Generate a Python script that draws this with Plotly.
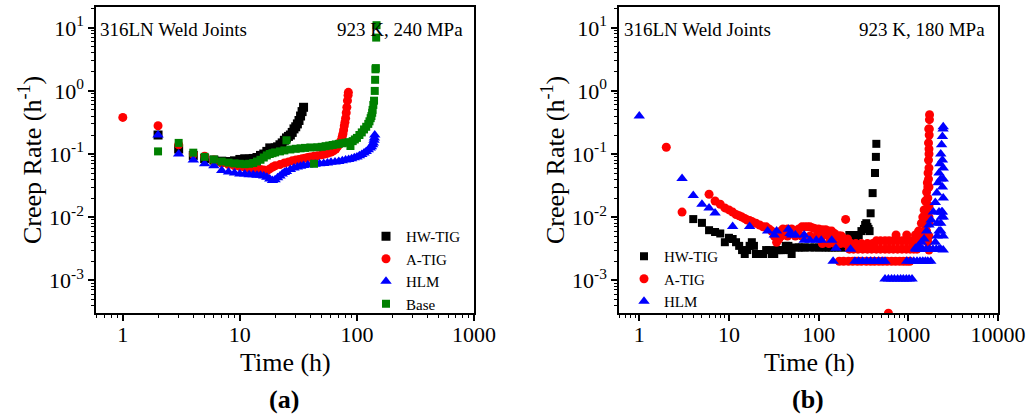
import plotly.graph_objects as go

# ---------------- Panel (a): 923 K, 240 MPa ----------------
a_hw_t = [2, 3, 4, 5, 6, 7, 8, 9, 10, 11, 12, 13, 14, 15, 16, 17, 18, 19, 20, 21, 22, 23, 24,
          25, 26, 27, 28, 29, 30, 31, 32, 33, 34, 35]
a_hw_r = [0.2, 0.12, 0.095, 0.085, 0.08, 0.077, 0.076, 0.078, 0.082, 0.084, 0.083, 0.085, 0.088,
          0.095, 0.1, 0.11, 0.125, 0.12, 0.125, 0.13, 0.14, 0.15, 0.165, 0.18, 0.19, 0.2, 0.22,
          0.25, 0.27, 0.3, 0.34, 0.4, 0.47, 0.55]

a_atig_t = [1, 2, 3, 4, 5, 6, 7, 8, 9, 10, 11, 12, 13, 14, 15, 16, 17, 18, 19, 20, 22, 24, 26,
            28, 30, 32, 34, 36, 38, 40, 43, 46, 50, 53, 56, 60, 63, 66, 68, 70, 72, 74, 75, 76,
            77, 78, 79, 80, 81, 82, 83, 84, 84.5]
a_atig_r = [0.38, 0.28, 0.14, 0.1, 0.092, 0.08, 0.072, 0.068, 0.065, 0.063, 0.062, 0.06, 0.059,
            0.058, 0.057, 0.056, 0.054, 0.058, 0.062, 0.065, 0.068, 0.072, 0.075, 0.078, 0.08,
            0.082, 0.084, 0.086, 0.088, 0.09, 0.092, 0.094, 0.097, 0.1, 0.103, 0.107, 0.112,
            0.12, 0.13, 0.14, 0.155, 0.17, 0.19, 0.21, 0.24, 0.28, 0.32, 0.37, 0.45, 0.55, 0.7,
            0.85, 0.95]

a_hlm_t = [2, 3, 4, 5, 6, 7, 8, 9, 10, 11, 12, 13, 14, 15, 16, 17, 18, 19, 20, 21, 22, 23, 24,
           25, 27, 29, 31, 33, 35, 38, 41, 44, 48, 52, 56, 60, 65, 70, 75, 80, 85, 90, 95, 100,
           105, 110, 115, 120, 125, 130, 133, 136, 138, 140, 141, 142]
a_hlm_r = [0.2, 0.1, 0.08, 0.07, 0.065, 0.055, 0.052, 0.05, 0.048, 0.048, 0.047, 0.047, 0.046,
           0.046, 0.045, 0.043, 0.04, 0.038, 0.039, 0.042, 0.045, 0.048, 0.051, 0.053, 0.057,
           0.06, 0.062, 0.064, 0.066, 0.067, 0.068, 0.069, 0.07, 0.071, 0.072, 0.074, 0.075,
           0.076, 0.078, 0.08, 0.082, 0.084, 0.087, 0.09, 0.094, 0.098, 0.104, 0.11, 0.117,
           0.125, 0.13, 0.14, 0.15, 0.165, 0.18, 0.2]

a_base_t = [2, 3, 4, 5, 6, 7, 8, 9, 10, 11, 12, 13, 14, 15, 16, 17, 18, 19, 20, 22, 24, 25, 27,
            30, 33, 36, 40, 43, 46, 50, 54, 58, 62, 66, 70, 75, 80, 85, 88, 92, 96, 100, 105,
            110, 115, 120, 125, 128, 131, 133, 135, 136, 138, 140, 142, 143, 144, 145, 146, 147]
a_base_r = [0.11, 0.15, 0.105, 0.09, 0.082, 0.076, 0.073, 0.071, 0.07, 0.069, 0.07, 0.072,
            0.076, 0.081, 0.088, 0.095, 0.1, 0.103, 0.106, 0.11, 0.114, 0.165, 0.118, 0.121,
            0.123, 0.125, 0.127, 0.07, 0.128, 0.13, 0.133, 0.136, 0.139, 0.142, 0.145, 0.148,
            0.151, 0.154, 0.134, 0.16, 0.17, 0.18, 0.2, 0.22, 0.245, 0.27, 0.3, 0.33, 0.37, 0.4,
            0.45, 0.5, 0.6, 0.7, 1.0, 1.5, 2.2, 2.3, 7.0, 11.0]

# ---------------- Panel (b): 923 K, 180 MPa ----------------
b_hw_t = [4, 5, 6, 7, 8, 9, 10, 11, 12, 13, 14, 15, 16, 17, 18, 19, 20, 22, 24, 26, 28, 30, 32,
          34, 36, 38, 40, 43, 46, 48, 50, 55, 60, 65, 70, 80, 90, 100, 110, 120, 130, 140, 150,
          165, 180, 200, 220, 240, 260, 280, 300, 320, 330, 340, 350, 360, 370, 380, 400, 425,
          435, 440]
b_hw_r = [0.0093, 0.0081, 0.0062, 0.0058, 0.0055, 0.004, 0.0047, 0.0045, 0.004, 0.0035, 0.003,
          0.0026, 0.003, 0.0035, 0.004, 0.0035, 0.0026, 0.0026, 0.0026, 0.003, 0.003, 0.0026,
          0.0026, 0.003, 0.003, 0.003, 0.003, 0.0035, 0.0035, 0.003, 0.0026, 0.0033, 0.0033,
          0.0033, 0.0033, 0.0033, 0.0033, 0.0033, 0.0033, 0.0033, 0.0033, 0.0033, 0.0033,
          0.0033, 0.0033, 0.0033, 0.0052, 0.0052, 0.0047, 0.0052, 0.006, 0.0065, 0.0075,
          0.008, 0.007, 0.0065, 0.006, 0.0115, 0.024, 0.05, 0.09, 0.145]

b_atig_t = [2, 3, 6, 7, 8, 9, 10, 11, 12, 13, 14, 15, 16, 17, 18, 20, 22, 24, 26, 28, 30, 32,
            34, 36, 38, 40, 45, 50, 55, 60, 65, 70, 75, 80, 85, 90, 100, 110, 120, 130, 140,
            150, 160, 170, 180, 190, 200, 210,
            38, 45, 55, 65, 80, 95, 110, 130, 150, 170,
            110, 130, 150, 175, 200, 230, 260, 300, 350, 400,
            170, 190, 215, 240, 270, 300, 340, 380, 420, 470, 520, 580, 650, 720, 800, 880,
            960, 1040,
            220, 245, 275, 310, 350, 390, 440, 490, 550, 610, 680, 760, 850, 950, 1050, 1150,
            1250,
            440, 490, 550, 610, 680, 760, 850, 950, 1050, 1150, 1250, 1350,
            730, 960, 1200, 1300, 600,
            1400, 1450, 1500, 1550, 1600, 1630, 1660, 1680, 1700, 1710, 1715, 1720, 1725,
            1700, 1700, 1700, 1700, 1700, 1700, 1650, 1650, 1600, 1550, 1500,
            1550, 1600, 1650, 1650, 1680, 1700, 1700, 1600, 1500, 1450, 1680, 1690]
b_atig_r = [0.128, 0.012, 0.023, 0.018, 0.016, 0.014, 0.013, 0.012, 0.011, 0.0105, 0.01,
            0.0095, 0.009, 0.0088, 0.0085, 0.008, 0.0075, 0.007, 0.007, 0.0065, 0.006, 0.005,
            0.004, 0.0045, 0.006, 0.0065, 0.0065, 0.0065, 0.006, 0.0065, 0.007, 0.007, 0.007,
            0.007, 0.0068, 0.0066, 0.0065, 0.0063, 0.0063, 0.006, 0.006, 0.0055, 0.005, 0.005,
            0.005, 0.0045, 0.0092, 0.0045,
            0.005, 0.005, 0.005, 0.005, 0.005, 0.005, 0.005, 0.005, 0.005, 0.005,
            0.0038, 0.0038, 0.0038, 0.0038, 0.0038, 0.0038, 0.0038, 0.0038, 0.0038, 0.0038,
            0.002, 0.002, 0.002, 0.002, 0.002, 0.002, 0.002, 0.002, 0.002, 0.002, 0.002, 0.002,
            0.002, 0.002, 0.002, 0.002, 0.002, 0.002,
            0.0031, 0.0031, 0.0031, 0.0031, 0.0031, 0.0031, 0.0031, 0.0031, 0.0031, 0.0031,
            0.0031, 0.0031, 0.0031, 0.0031, 0.0031, 0.0031, 0.0031,
            0.0042, 0.0042, 0.0042, 0.0042, 0.0042, 0.0042, 0.0042, 0.0042, 0.0042, 0.0042,
            0.0042, 0.0042,
            0.0052, 0.0052, 0.0052, 0.006, 0.0003,
            0.008, 0.01, 0.013, 0.018, 0.025, 0.035, 0.05, 0.08, 0.12, 0.2, 0.25, 0.35, 0.42,
            0.003, 0.005, 0.008, 0.015, 0.03, 0.06, 0.004, 0.02, 0.008, 0.006, 0.005,
            0.01, 0.012, 0.015, 0.03, 0.04, 0.1, 0.01, 0.006, 0.006, 0.005, 0.15, 0.25]

b_hlm_t = [1, 3, 4, 5, 6, 7, 11, 17, 27, 32, 34, 46, 48, 50, 55, 69, 69, 80, 94, 107, 140,
           145, 156, 227,
           254, 280, 310, 345, 380, 420, 465, 510, 550,
           550, 600, 650, 700, 760, 820, 880, 950, 1020, 1100,
           960, 1050, 1150, 1250, 1350, 1450, 1550, 1650, 1780,
           1220, 1330, 1450, 1580, 1720, 1880, 2050, 2200, 2300,
           1200, 1300, 1400, 1500, 1600, 1700, 1800, 1900, 2000, 2080, 2150, 2200, 2250, 2300,
           2350, 2400, 2440, 2450,
           2450, 2450, 2450, 2450, 2450, 2450, 2350, 2300, 2200, 2100, 2000,
           2300, 2350, 2400, 2400, 2300, 2200, 2100, 2400]
b_hlm_r = [0.4, 0.041, 0.022, 0.016, 0.014, 0.0116, 0.0071, 0.0071, 0.006, 0.0052, 0.006,
           0.0064, 0.0055, 0.0052, 0.0052, 0.0052, 0.0043, 0.0043, 0.0043, 0.0043, 0.0043,
           0.002, 0.0032, 0.0031,
           0.002, 0.002, 0.002, 0.002, 0.002, 0.002, 0.002, 0.002, 0.002,
           0.00104, 0.00104, 0.00104, 0.00104, 0.00104, 0.00104, 0.00104, 0.00104, 0.00104,
           0.00104,
           0.002, 0.002, 0.002, 0.002, 0.002, 0.002, 0.002, 0.002, 0.002,
           0.0031, 0.0031, 0.0031, 0.0031, 0.0031, 0.0031, 0.0031, 0.0031, 0.0031,
           0.0032, 0.0035, 0.004, 0.0045, 0.006, 0.0075, 0.009, 0.012, 0.017, 0.024, 0.035,
           0.05, 0.07, 0.1, 0.14, 0.19, 0.25, 0.27,
           0.003, 0.005, 0.01, 0.02, 0.04, 0.06, 0.012, 0.008, 0.006, 0.005, 0.004,
           0.006, 0.01, 0.03, 0.08, 0.04, 0.012, 0.008, 0.012]

# ---------------- Axis labels ----------------
x_ticks_a = [1, 10, 100, 1000]
x_ticks_b = [1, 10, 100, 1000, 10000]
y_tickvals = [1e-3, 1e-2, 1e-1, 1, 10]
y_ticktext = ["10<sup>-3</sup>", "10<sup>-2</sup>", "10<sup>-1</sup>", "10<sup>0</sup>",
              "10<sup>1</sup>"]
series_names = ["HW-TIG", "A-TIG", "HLM", "Base"]
series_colors = ["#000000", "#ff0000", "#0000ff", "#008000"]
series_symbols = ["square", "circle", "triangle-up", "square"]
sizes_a = [9, 9, 10, 8]
sizes_b = [8, 9, 10]

FONT = "Liberation Serif"
W, H = 1032, 420

fig = go.Figure()

panel_a = [(a_hw_t, a_hw_r), (a_atig_t, a_atig_r), (a_hlm_t, a_hlm_r), (a_base_t, a_base_r)]
for i, (t, r) in enumerate(panel_a):
    fig.add_trace(go.Scatter(
        x=t, y=r, mode="markers", name=series_names[i], legend="legend",
        xaxis="x", yaxis="y",
        marker=dict(symbol=series_symbols[i], color=series_colors[i], size=sizes_a[i],
                    line=dict(width=0))))

panel_b = [(b_hw_t, b_hw_r), (b_atig_t, b_atig_r), (b_hlm_t, b_hlm_r)]
for i, (t, r) in enumerate(panel_b):
    fig.add_trace(go.Scatter(
        x=t, y=r, mode="markers", name=series_names[i], legend="legend2",
        xaxis="x2", yaxis="y2",
        marker=dict(symbol=series_symbols[i], color=series_colors[i], size=sizes_b[i],
                    line=dict(width=0))))

minor_x = [m * 10 ** k for k in range(-1, 4) for m in range(2, 10)]
minor_y = [m * 10 ** k for k in range(-4, 2) for m in range(2, 10)]

def xaxis(dom, rng, ticks, anchor):
    return dict(type="log", domain=dom, range=rng, anchor=anchor, automargin=False,
                tickmode="array", tickvals=ticks, ticktext=[str(v) for v in ticks],
                ticks="outside", ticklen=6, tickwidth=1.5, tickcolor="black",
                ticklabelstandoff=-5,
                showline=True, linecolor="black", linewidth=1.5, mirror=True,
                showgrid=False, zeroline=False,
                tickfont=dict(family=FONT, size=22, color="black"),
                minor=dict(tickvals=minor_x, ticks="outside", ticklen=3, tickwidth=1,
                           tickcolor="black", showgrid=False))

def yaxis(dom, anchor):
    return dict(type="log", domain=dom, range=[-3.52, 1.33], anchor=anchor, automargin=False,
                tickmode="array", tickvals=y_tickvals, ticktext=y_ticktext,
                ticks="outside", ticklen=6, tickwidth=1.5, tickcolor="black",
                showline=True, linecolor="black", linewidth=1.5, mirror=True,
                showgrid=False, zeroline=False,
                tickfont=dict(family=FONT, size=22, color="black"),
                minor=dict(tickvals=minor_y, ticks="outside", ticklen=3, tickwidth=1,
                           tickcolor="black", showgrid=False))

ydom = [1 - 313 / H, 1 - 7 / H]
fig.update_layout(
    width=W, height=H, autosize=False, margin=dict(l=0, r=0, t=0, b=0, autoexpand=False),
    paper_bgcolor="white", plot_bgcolor="white",
    font=dict(family=FONT, color="black"),
    xaxis=xaxis([96 / W, 474 / W], [-0.229, 3], x_ticks_a, "y"),
    yaxis=yaxis(ydom, "x"),
    xaxis2=xaxis([619 / W, 998 / W], [-0.226, 4], x_ticks_b, "y2"),
    yaxis2=yaxis(ydom, "x2"),
    legend=dict(x=366 / W, y=1 - 220 / H, xanchor="left", yanchor="top",
                bgcolor="rgba(0,0,0,0)", font=dict(family=FONT, size=15, color="black"),
                tracegroupgap=0, itemsizing="trace"),
    legend2=dict(x=624 / W, y=1 - 240 / H, xanchor="left", yanchor="top",
                 bgcolor="rgba(0,0,0,0)", font=dict(family=FONT, size=15, color="black"),
                 tracegroupgap=0, itemsizing="trace"),
    showlegend=True,
)

ann = []
def txt(x, y, s, size, xanchor="center", angle=0):
    ann.append(dict(x=x / W, y=1 - y / H, xref="paper", yref="paper", text=s, showarrow=False,
                    xanchor=xanchor, yanchor="middle", textangle=angle,
                    font=dict(family=FONT, size=size, color="black")))

txt(98, 30, "316LN Weld Joints", 19, "left")
txt(465, 30, "923 K, 240 MPa", 19, "right")
txt(622, 30, "316LN Weld Joints", 19, "left")
txt(987, 30, "923 K, 180 MPa", 19, "right")
txt(285, 362, "Time (h)", 26)
txt(809, 362, "Time (h)", 26)
txt(30, 160, "Creep Rate (h<sup>-1</sup>)", 26, angle=-90)
txt(553, 160, "Creep Rate (h<sup>-1</sup>)", 26, angle=-90)
txt(284, 399, "<b>(a)</b>", 26)
txt(808, 399, "<b>(b)</b>", 26)
fig.update_layout(annotations=ann)

fig.write_html("out.html",
               config={"responsive": False, "displayModeBar": False},
               post_script="document.body.style.margin='0px';"
                           "document.body.style.overflow='hidden';")
